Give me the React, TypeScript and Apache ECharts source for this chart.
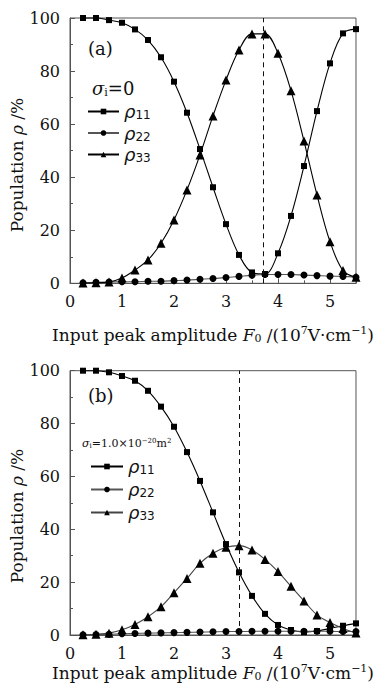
import React, { useEffect, useRef } from "react";
import * as echarts from "echarts";

const xValues = [0.25, 0.5, 0.75, 1.0, 1.25, 1.5, 1.75, 2.0, 2.25, 2.5, 2.75, 3.0, 3.25, 3.5, 3.75, 4.0, 4.25, 4.5, 4.75, 5.0, 5.25, 5.5];

const topRho11 = [100, 100, 99.2, 98.2, 95.7, 91.7, 85.2, 76.0, 64.3, 50.6, 36.2, 22.3, 10.7, 4.1, 3.5, 11.3, 25.4, 44.2, 64.9, 82.9, 94.2, 95.8];
const topRho22 = [0.2, 0.4, 0.5, 0.6, 0.6, 0.8, 0.8, 1.0, 1.2, 1.5, 1.8, 2.2, 2.6, 3.0, 3.3, 3.3, 3.3, 3.1, 2.9, 2.7, 2.6, 2.3];
const topRho33 = [0.1, 0.2, 0.5, 2.0, 5.0, 8.8, 15.1, 23.9, 35.2, 48.4, 63.1, 76.6, 87.9, 94.0, 94.0, 86.7, 72.6, 53.6, 33.3, 15.7, 4.8, 2.3];

const botRho11 = [100, 100, 99.4, 98.0, 96.2, 92.4, 86.4, 78.8, 69.2, 58.3, 46.4, 34.4, 23.7, 14.8, 8.0, 3.8, 1.9, 1.1, 1.5, 2.5, 3.5, 4.4];
const botRho22 = [0.1, 0.2, 0.3, 0.5, 0.6, 0.7, 0.8, 0.9, 1.0, 1.1, 1.2, 1.3, 1.3, 1.4, 1.4, 1.4, 1.4, 1.4, 1.4, 1.4, 1.3, 1.3];
const botRho33 = [0.1, 0.3, 0.7, 2.0, 4.0, 6.9, 10.7, 16.0, 21.4, 27.1, 30.9, 33.2, 33.8, 32.2, 28.6, 24.0, 18.4, 12.9, 7.6, 4.7, 2.5, 0.8];

const topPeakX = 3.72;
const botPeakX = 3.25;

const xTicks = [0, 1, 2, 3, 4, 5];
const yTicks = [0, 20, 40, 60, 80, 100];

const SERIF = "DejaVu Serif";
const SANS = "DejaVu Sans";

const pair = (ys: number[]) => xValues.map((x, i) => [x, ys[i]]);

export default function App() {
  const ref = useRef<HTMLDivElement>(null);
  useEffect(() => {
    if (!ref.current) return;
    const chart = echarts.init(ref.current, null, { renderer: "svg" });

    const axisColor = "#555";
    const makeX = (gridIndex: number) => ({
      type: "value",
      gridIndex,
      min: 0,
      max: 5.5,
      interval: 1,
      axisLine: { show: true, onZero: false, lineStyle: { color: axisColor, width: 1 } },
      axisTick: { show: true, inside: true, length: 5, lineStyle: { color: axisColor } },
      minorTick: { show: true, splitNumber: 2, length: 3, lineStyle: { color: axisColor } },
      splitLine: { show: false },
      axisLabel: {
        show: true,
        margin: 10,
        color: "#111",
        fontFamily: SERIF,
        fontSize: 16,
        showMaxLabel: false,
        formatter: (v: number) => (xTicks.includes(v) ? String(v) : ""),
      },
      name: "{t|Input peak amplitude }{it|F}{sub|0}{t| /(10}{sup|7}{t|V·cm}{sup|−1}{t|)}",
      nameLocation: "middle",
      nameGap: gridIndex === 0 ? 42 : 28,
      nameTextStyle: {
        color: "#111",
        fontFamily: SERIF,
        fontSize: 17,
        rich: {
          t: { fontFamily: SERIF, fontSize: 17, color: "#111" },
          it: { fontFamily: SERIF, fontSize: 17, fontStyle: "italic", color: "#111" },
          sub: { fontFamily: SERIF, fontSize: 11, color: "#111", padding: [8, 0, 0, 0] },
          sup: { fontFamily: SERIF, fontSize: 11, color: "#111", padding: [0, 0, 8, 0] },
        },
      },
    });
    const makeY = (gridIndex: number) => ({
      type: "value",
      gridIndex,
      min: 0,
      max: 100,
      interval: 20,
      axisLine: { show: true, lineStyle: { color: axisColor, width: 1 } },
      axisTick: { show: true, inside: true, length: 5, lineStyle: { color: axisColor } },
      minorTick: { show: true, splitNumber: 2, length: 3, lineStyle: { color: axisColor } },
      splitLine: { show: false },
      axisLabel: {
        margin: 10,
        color: "#111",
        fontFamily: SERIF,
        fontSize: 16,
        formatter: (v: number) => (yTicks.includes(v) ? String(v) : ""),
      },
    });

    const yNameRich = {
      t: { fontFamily: SERIF, fontSize: 17, fill: "#111" },
      it: { fontFamily: SERIF, fontSize: 17, fontStyle: "italic", fill: "#111" },
    };
    const yName = (cy: number) => ({
      type: "text",
      x: 17,
      y: cy,
      rotation: Math.PI / 2,
      style: {
        text: "{t|Population }{it|ρ}{t| /%}",
        rich: yNameRich,
        align: "center",
        verticalAlign: "middle",
      },
    });

    const legendRich = {
      r: { fontFamily: SANS, fontStyle: "italic", fontSize: 18, color: "#111", lineHeight: 20 },
      s: { fontFamily: SANS, fontSize: 12, color: "#111", lineHeight: 20, padding: [7, 0, 0, 0] },
    };
    const legendFormatter = (name: string) => `{r|ρ}{s|${name.slice(2)}}`;

    const mkSeries = (
      name: string,
      idx: number,
      data: number[],
      symbol: string,
      size: number,
      lineColor: string,
      extra: any = {}
    ) => ({
      name,
      type: "line",
      xAxisIndex: idx,
      yAxisIndex: idx,
      data: pair(data),
      symbol,
      symbolSize: size,
      showSymbol: true,
      smooth: 0.35,
      clip: false,
      lineStyle: { color: lineColor, width: 1.1 },
      itemStyle: { color: "#000" },
      z: 3,
      ...extra,
    });

    const dashed = (x: number) => ({
      silent: true,
      symbol: "none",
      label: { show: false },
      lineStyle: { type: [5, 4], color: "#111", width: 1 },
      data: [{ xAxis: x }],
    });

    const option: any = {
      animation: false,
      backgroundColor: "#fff",
      grid: [
        { left: 70, top: 18, width: 292.7, height: 265.3, show: true, borderColor: axisColor, borderWidth: 1, backgroundColor: "transparent" },
        { left: 70, top: 370.7, width: 292.7, height: 264.3, show: true, borderColor: axisColor, borderWidth: 1, backgroundColor: "transparent" },
      ],
      xAxis: [makeX(0), makeX(1)],
      yAxis: [makeY(0), makeY(1)],
      legend: [
        {
          data: ["a-11", "a-22", "a-33"],
          orient: "vertical",
          left: 87,
          top: 102,
          padding: 0,
          itemWidth: 31,
          itemHeight: 7,
          itemGap: 2.5,
          selectedMode: false,
          formatter: legendFormatter,
          textStyle: { rich: legendRich },
        },
        {
          data: ["b-11", "b-22", "b-33"],
          orient: "vertical",
          left: 90,
          top: 457,
          padding: 0,
          itemWidth: 32,
          itemHeight: 7,
          itemGap: 4,
          selectedMode: false,
          formatter: legendFormatter,
          textStyle: { rich: legendRich },
        },
      ],
      graphic: [
        yName(165),
        yName(516),
        { type: "text", left: 88, top: 39, style: { text: "(a)", font: `18px ${SERIF}`, fill: "#111" } },
        { type: "text", left: 88, top: 386, style: { text: "(b)", font: `18px ${SERIF}`, fill: "#111" } },
        {
          type: "text",
          left: 92,
          top: 79,
          style: {
            text: "{s|σ}{i|i}{t|=0}",
            rich: {
              s: { fontFamily: SERIF, fontStyle: "italic", fontSize: 18, fill: "#111" },
              i: { fontFamily: SERIF, fontSize: 11, fill: "#111", padding: [8, 0, 0, 0] },
              t: { fontFamily: SERIF, fontSize: 18, fill: "#111" },
            },
          },
        },
        {
          type: "text",
          left: 82,
          top: 437,
          style: {
            text: "{s|σ}{i|i}{t|=1.0×10}{p|−20}{t|m}{p|2}",
            rich: {
              s: { fontFamily: SERIF, fontStyle: "italic", fontSize: 11, fill: "#111" },
              i: { fontFamily: SERIF, fontSize: 7, fill: "#111", padding: [5, 0, 0, 0] },
              t: { fontFamily: SERIF, fontSize: 11, fill: "#111" },
              p: { fontFamily: SERIF, fontSize: 7, fill: "#111", padding: [0, 0, 6, 0] },
            },
          },
        },
      ],
      series: [
        mkSeries("a-11", 0, topRho11, "rect", 6, "#000", { markLine: dashed(topPeakX) }),
        mkSeries("a-22", 0, topRho22, "circle", 7, "#555"),
        mkSeries("a-33", 0, topRho33, "triangle", 9, "#000"),
        mkSeries("b-11", 1, botRho11, "rect", 6, "#000", { markLine: dashed(botPeakX) }),
        mkSeries("b-22", 1, botRho22, "circle", 7, "#555"),
        mkSeries("b-33", 1, botRho33, "triangle", 9, "#444"),
      ],
    };

    chart.setOption(option);
    return () => chart.dispose();
  }, []);

  return (
    <div
      ref={ref}
      style={{ position: "absolute", left: 0, top: 0, width: 376, height: 692, background: "#fff" }}
    />
  );
}
